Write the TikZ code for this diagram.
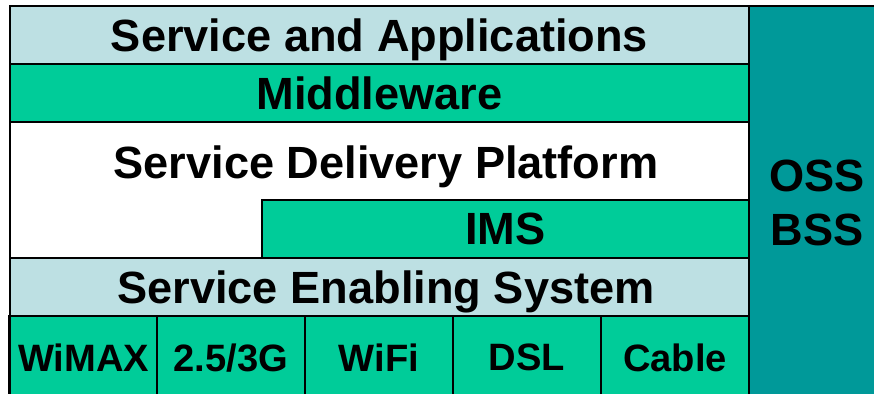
\documentclass[tikz,border=0pt]{standalone}
\usepackage{fontspec}
\setmainfont{Liberation Sans}
\usepackage{xcolor}
\usepackage{tikz}
\usetikzlibrary{positioning}
\definecolor{layerBlue}{HTML}{BDE0E3}
\definecolor{layerGreen}{HTML}{00CC99}
\definecolor{layerTeal}{HTML}{009999}
\tikzset{
    layer_base/.style={
        rectangle, draw=black, line width=1.2pt, inner sep=0pt, text depth=0pt,
        align=center, font=\fontsize{25.7}{30.5}\selectfont\bfseries
    },
    layer_blue/.style={layer_base, fill=layerBlue},
    layer_green/.style={layer_base, fill=layerGreen},
    layer_white/.style={layer_base, fill=white},
    layer_teal/.style={layer_base, fill=layerTeal},
    access_cell/.style={
        layer_green, minimum width=2.96cm, minimum height=1.66cm,
        font=\fontsize{21.7}{26}\selectfont\bfseries
    },
    plain_lbl/.style={font=\fontsize{25.7}{30.5}\selectfont\bfseries, inner sep=0pt, text depth=0pt}
}
\begin{document}
\begin{tikzpicture}
    \useasboundingbox (0,0) rectangle (17.48,7.88);
    \clip (0,0) rectangle (17.48,7.88);

    % Right column: operations and business support
    \node[layer_teal, minimum width=2.72cm, minimum height=7.86cm] (oss) at (16.34,3.83) {OSS\\BSS};

    % Stacked layers (top to bottom)
    \node[layer_blue, minimum width=14.78cm, minimum height=1.16cm] (apps) at (7.59,7.18) {Service and Applications};
    \node[layer_green, minimum width=14.78cm, minimum height=1.16cm] (mw) at (7.59,6.02) {Middleware};
    \node[layer_white, minimum width=14.78cm, minimum height=2.72cm] (sdp) at (7.59,4.08) {};
    \node[plain_lbl] (sdplbl) at (7.72,4.64) {Service Delivery Platform};
    \node[layer_green, minimum width=9.74cm, minimum height=1.16cm] (ims) at (10.11,3.30) {IMS};
    \node[layer_blue, minimum width=14.78cm, minimum height=1.16cm] (ses) at (7.59,2.14) {};
    \node[plain_lbl] (seslbl) at (7.72,2.14) {Service Enabling System};

    % Bottom row: access networks
    \node[access_cell] (wimax) at (1.67,0.73) {WiMAX};
    \node[access_cell] (umts) at (4.62,0.73) {2.5/3G};
    \node[access_cell] (wifi) at (7.58,0.73) {WiFi};
    \node[access_cell] (dsl) at (10.54,0.73) {DSL};
    \node[access_cell] (cable) at (13.50,0.73) {Cable};
\end{tikzpicture}
\end{document}
